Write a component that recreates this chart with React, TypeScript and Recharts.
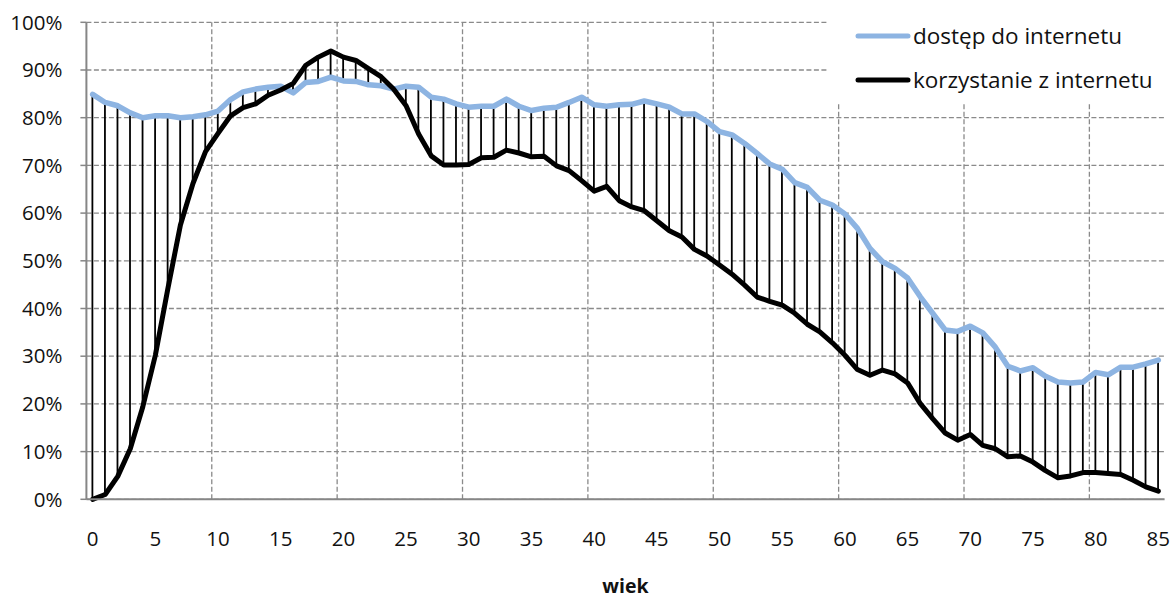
import React from 'react';
import {
  ComposedChart,
  Line,
  Bar,
  XAxis,
  YAxis,
  CartesianGrid,
  Legend,
  ReferenceLine,
} from 'recharts';

const ages: number[] = Array.from({ length: 86 }, (_, i) => i);

const accessValues: number[] = [
  84.9, 83.2, 82.5, 81.0, 80.0, 80.4, 80.4, 80.0, 80.2, 80.6,
  81.4, 83.8, 85.4, 86.0, 86.4, 86.6, 85.2, 87.4, 87.6, 88.5,
  87.7, 87.6, 86.9, 86.7, 86.0, 86.6, 86.4, 84.3, 83.9, 82.9,
  82.2, 82.4, 82.4, 83.9, 82.4, 81.5, 82.0, 82.2, 83.2, 84.3,
  82.7, 82.4, 82.7, 82.8, 83.5, 82.9, 82.2, 80.8, 80.8, 79.2,
  77.1, 76.4, 74.6, 72.5, 70.3, 69.2, 66.4, 65.4, 62.7, 61.7,
  59.8, 56.8, 52.6, 49.8, 48.4, 46.4, 42.5, 39.0, 35.5, 35.2,
  36.3, 34.9, 31.9, 27.9, 26.9, 27.6, 25.8, 24.6, 24.4, 24.6,
  26.6, 26.1, 27.7, 27.7, 28.4, 29.2,
];

const usageValues: number[] = [
  0.0, 1.0, 4.8, 10.6, 19.4, 30.2, 44.2, 57.5, 66.2, 72.9,
  76.7, 80.4, 82.1, 82.9, 84.7, 85.8, 87.2, 91.0, 92.7, 94.0,
  92.7, 92.0, 90.3, 88.6, 86.0, 82.5, 76.6, 72.0, 70.1, 70.1,
  70.2, 71.6, 71.7, 73.2, 72.6, 71.8, 71.9, 69.9, 68.9, 66.8,
  64.6, 65.6, 62.6, 61.3, 60.5, 58.4, 56.3, 55.0, 52.4, 51.0,
  49.1, 47.2, 44.9, 42.4, 41.5, 40.7, 39.0, 36.7, 35.1, 32.8,
  30.2, 27.2, 26.0, 27.1, 26.3, 24.4, 20.1, 16.9, 13.9, 12.4,
  13.6, 11.3, 10.6, 8.9, 9.1, 7.8, 6.0, 4.5, 4.9, 5.6,
  5.6, 5.4, 5.2, 4.0, 2.6, 1.7,
];

const xLabelTicks: number[] = [0, 5, 10, 15, 20, 25, 30, 35, 40, 45, 50, 55, 60, 65, 70, 75, 80, 85];
const xGridTicks: number[] = [-0.5, 9.5, 19.5, 29.5, 39.5, 49.5, 59.5, 69.5, 79.5];
const yTicks: number[] = [0, 10, 20, 30, 40, 50, 60, 70, 80, 90, 100];

const seriesNames = {
  access: 'dostęp do internetu',
  usage: 'korzystanie z internetu',
};
const xAxisTitle = 'wiek';

const BLUE = '#8DB4E2';
const GRID = '#8a8a8a';
const AXIS = '#868686';
const FONT = '"Open Sans", sans-serif';

const data = ages.map((age, i) => ({
  age,
  access: accessValues[i],
  usage: usageValues[i],
  range: [Math.min(accessValues[i], usageValues[i]), Math.max(accessValues[i], usageValues[i])],
}));

const DropLine = (props: any) => {
  const { x, y, width, height } = props;
  if (x == null || y == null) return null;
  const cx = x + width / 2;
  return <line x1={cx} x2={cx} y1={y} y2={y + height} stroke="#000" strokeWidth={1.8} />;
};

const LegendContent = () => {
  const items = [
    { name: seriesNames.access, color: BLUE },
    { name: seriesNames.usage, color: '#000' },
  ];
  return (
    <div style={{ background: '#fff', width: '100%', height: '100%', boxSizing: 'border-box' }}>
      {items.map((it) => (
        <div key={it.name} style={{ display: 'flex', alignItems: 'center', height: 44, marginLeft: 28 }}>
          <svg width={56} height={10} style={{ display: 'block' }}>
            <line x1={3} x2={53} y1={5} y2={5} stroke={it.color} strokeWidth={5} strokeLinecap="round" />
          </svg>
          <span style={{ fontFamily: FONT, fontSize: 22.5, color: '#111', marginLeft: 2, whiteSpace: 'nowrap', lineHeight: '44px' }}>
            {it.name}
          </span>
        </div>
      ))}
    </div>
  );
};

export default function App() {
  return (
    <div style={{ position: 'absolute', left: 0, top: 0, width: 1172, height: 599, overflow: 'hidden' }}>
      <ComposedChart
        width={1172}
        height={599}
        data={data}
        margin={{ top: 22.3, right: 7.4, left: 0, bottom: 0 }}
      >
        <CartesianGrid
          vertical={false}
          stroke={GRID}
          strokeWidth={1.3}
          strokeDasharray="5 2.5"
        />
        <XAxis
          xAxisId="grid"
          type="number"
          dataKey="age"
          domain={[-0.5, 85.5]}
          ticks={xGridTicks}
          allowDataOverflow
          tick={false}
          tickSize={6}
          height={6}
          axisLine={{ stroke: AXIS, strokeWidth: 2 }}
          tickLine={{ stroke: AXIS, strokeWidth: 1.5 }}
        />
        <XAxis
          xAxisId="labels"
          type="number"
          dataKey="age"
          domain={[-0.5, 85.5]}
          ticks={xLabelTicks}
          allowDataOverflow
          axisLine={false}
          tickLine={false}
          tickSize={0}
          tickMargin={26.5}
          height={93.7}
          interval={0}
          tick={{ fontFamily: FONT, fontSize: 20.5, fill: '#111' }}
          label={{
            value: xAxisTitle,
            position: 'insideBottom',
            offset: 6,
            style: { fontFamily: FONT, fontSize: 19.5, fontWeight: 700, fill: '#111' },
          }}
        />
        <YAxis
          type="number"
          domain={[0, 100]}
          ticks={yTicks}
          interval={0}
          width={86.4}
          tickFormatter={(v: number) => `${v}%`}
          tickSize={6}
          tickMargin={18}
          axisLine={{ stroke: AXIS, strokeWidth: 2 }}
          tickLine={{ stroke: AXIS, strokeWidth: 1.5 }}
          tick={{ fontFamily: FONT, fontSize: 20.5, fill: '#111' }}
        />
        {xGridTicks.slice(1).map((t) => (
          <ReferenceLine
            key={t}
            xAxisId="grid"
            x={t}
            stroke={GRID}
            strokeWidth={1.3}
            strokeDasharray="5 2.5"
          />
        ))}
        <Bar
          xAxisId="labels"
          dataKey="range"
          barSize={2}
          shape={<DropLine />}
          isAnimationActive={false}
          legendType="none"
        />
        <Line
          xAxisId="labels"
          type="linear"
          dataKey="access"
          name={seriesNames.access}
          stroke={BLUE}
          strokeWidth={5.5}
          strokeLinejoin="round"
          strokeLinecap="round"
          dot={false}
          activeDot={false}
          isAnimationActive={false}
        />
        <Line
          xAxisId="labels"
          type="linear"
          dataKey="usage"
          name={seriesNames.usage}
          stroke="#000"
          strokeWidth={5}
          strokeLinejoin="round"
          strokeLinecap="round"
          dot={false}
          activeDot={false}
          isAnimationActive={false}
        />
        <Legend
          layout="vertical"
          align="center"
          verticalAlign="middle"
          content={<LegendContent />}
          wrapperStyle={{ position: 'absolute', left: 827, top: 14, width: 345, height: 89 }}
        />
      </ComposedChart>
    </div>
  );
}
